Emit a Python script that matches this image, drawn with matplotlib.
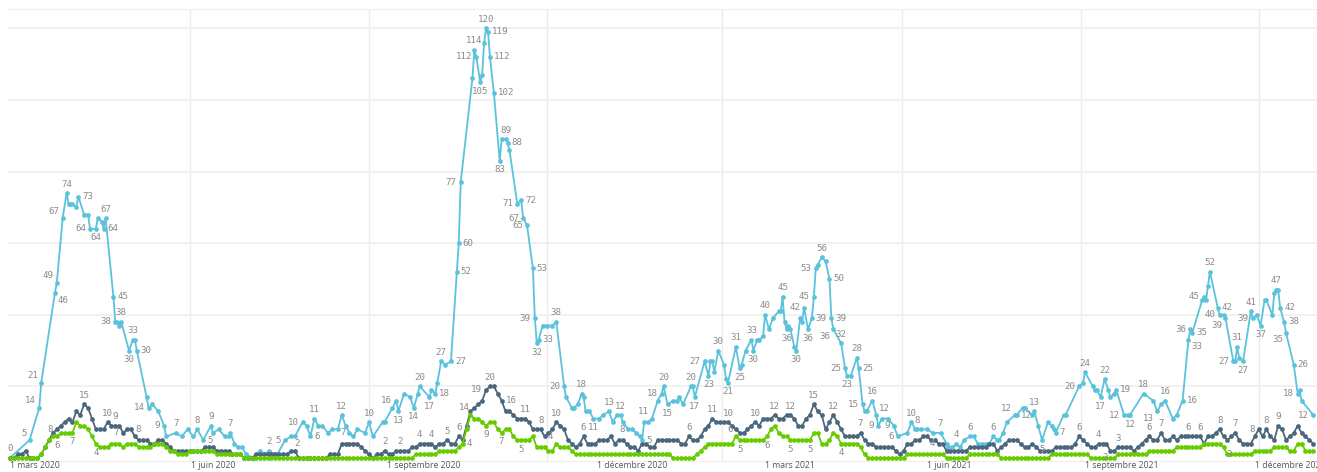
import pandas as pd
import matplotlib
matplotlib.use("Agg")
import matplotlib.pyplot as plt
import matplotlib.transforms as mtransforms

# day 0 = 1 mars 2020
start = pd.Timestamp("2020-03-01")

# light blue series: (day, value)
blue_pts = [
    (0, 0), (10, 5), (15, 14), (16, 21), (23, 46), (24, 49), (27, 67), (29, 74), (30, 71), (31, 71),
    (32, 71), (34, 70), (35, 73), (38, 68), (40, 68), (41, 64), (44, 64), (45, 67), (47, 66), (48, 64),
    (49, 67), (53, 45), (54, 38), (55, 38), (56, 37), (57, 38), (61, 30), (63, 33), (64, 33), (65, 30),
    (70, 17), (71, 14), (73, 15), (76, 13), (79, 9), (80, 6), (85, 7), (88, 6), (91, 8), (94, 6),
    (96, 8), (99, 5), (103, 9), (104, 7), (107, 8), (110, 6), (112, 6), (113, 7), (115, 4), (117, 3),
    (119, 3), (121, 1), (125, 0), (128, 2), (130, 1), (133, 2), (135, 1), (137, 1), (141, 5), (144, 6),
    (146, 6), (150, 10), (152, 9), (154, 6), (156, 11), (158, 9), (160, 9), (163, 7), (165, 8), (168, 8),
    (170, 12), (172, 9), (174, 7), (176, 6), (178, 8), (182, 7), (184, 10), (186, 6), (191, 10), (192, 10),
    (196, 14), (198, 16), (199, 13), (202, 18), (205, 17), (207, 14), (209, 18), (210, 20), (215, 17), (216, 19),
    (218, 18), (219, 21), (221, 27), (223, 26), (226, 27), (229, 52), (230, 60), (231, 77), (237, 106), (238, 114),
    (239, 112), (241, 105), (242, 107), (243, 116), (244, 120), (245, 119), (246, 112), (248, 102), (251, 83), (252, 89),
    (254, 89), (255, 88), (256, 86), (260, 71), (262, 72), (263, 67), (265, 65), (268, 53), (269, 39), (270, 32),
    (271, 33), (273, 37), (275, 37), (278, 37), (280, 38), (284, 20), (285, 17), (288, 14), (289, 14), (291, 15),
    (293, 18), (294, 17), (295, 13), (297, 13), (299, 11), (302, 11), (304, 12), (307, 13), (309, 10), (311, 12),
    (313, 12), (314, 10), (317, 8), (319, 8), (321, 7), (323, 6), (324, 5), (325, 10), (327, 10), (329, 11),
    (332, 16), (334, 18), (335, 20), (337, 15), (340, 16), (342, 16), (343, 17), (345, 15), (349, 20), (350, 20),
    (351, 17), (356, 27), (358, 23), (359, 27), (360, 27), (361, 24), (363, 30), (366, 26), (367, 22), (368, 21),
    (372, 31), (374, 25), (375, 26), (377, 30), (380, 33), (381, 30), (383, 33), (384, 33), (386, 34), (387, 40),
    (389, 36), (391, 39), (394, 41), (395, 41), (396, 45), (397, 38), (398, 36), (399, 37), (400, 36), (402, 31),
    (403, 30), (405, 39), (406, 38), (407, 42), (409, 36), (411, 39), (412, 45), (413, 53), (414, 54), (416, 56),
    (418, 55), (420, 50), (421, 39), (422, 36), (426, 32), (428, 25), (429, 23), (431, 23), (434, 28), (435, 25),
    (437, 15), (438, 13), (439, 13), (442, 16), (444, 12), (445, 9), (447, 11), (450, 11), (453, 9), (455, 6),
    (460, 7), (462, 10), (464, 8), (465, 8), (467, 8), (470, 8), (473, 7), (477, 7), (480, 4), (481, 3),
    (483, 3), (485, 4), (487, 3), (489, 5), (492, 6), (494, 6), (496, 4), (498, 4), (500, 4), (502, 4),
    (504, 6), (506, 5), (507, 5), (509, 7), (511, 10), (515, 12), (516, 12), (519, 14), (520, 14), (524, 12),
    (525, 13), (527, 9), (529, 5), (532, 10), (534, 9), (535, 8), (536, 7), (540, 12), (541, 12), (548, 20),
    (550, 21), (551, 24), (555, 20), (556, 19), (557, 19), (559, 17), (561, 22), (563, 19), (564, 17), (566, 18),
    (567, 19), (571, 12), (573, 12), (574, 12), (581, 18), (586, 16), (588, 13), (590, 15), (592, 16), (596, 11),
    (598, 12), (601, 16), (604, 33), (605, 36), (606, 35), (611, 44), (612, 45), (613, 44), (614, 48), (615, 52),
    (619, 42), (620, 40), (622, 40), (623, 39), (627, 27), (628, 27), (629, 31), (630, 28), (632, 27), (636, 41),
    (637, 39), (639, 40), (641, 37), (643, 44), (644, 44), (647, 40), (648, 46), (649, 47), (650, 47), (651, 42),
    (653, 38), (654, 35), (658, 26), (660, 18), (661, 19), (662, 16), (668, 12),
]

# dark and green series: one value every 2 days from day 0
dark_vals = [
    0, 0, 1, 1, 2, 0, 0, 0, 1, 3, 5, 7, 8, 9, 10, 11, 10, 13, 12, 15,
    14, 11, 8, 8, 8, 10, 9, 9, 9, 7, 8, 8, 6, 5, 5, 5, 4, 4, 5, 5,
    4, 3, 2, 2, 2, 2, 2, 2, 2, 2, 3, 3, 3, 2, 2, 2, 2, 1, 1, 1,
    0, 0, 0, 1, 1, 1, 1, 1, 1, 1, 1, 1, 2, 2, 0, 0, 0, 0, 0, 0,
    0, 0, 1, 1, 1, 4, 4, 4, 4, 4, 3, 2, 1, 0, 1, 1, 2, 1, 1, 2,
    2, 2, 2, 3, 3, 4, 4, 4, 4, 3, 4, 4, 5, 4, 4, 6, 5, 9, 13, 14,
    15, 16, 19, 20, 20, 18, 16, 13, 13, 12, 11, 11, 11, 10, 8, 8, 8, 6, 7, 8,
    10, 9, 8, 5, 4, 3, 4, 6, 4, 4, 4, 5, 5, 5, 6, 4, 5, 5, 4, 3,
    3, 2, 4, 4, 3, 3, 5, 5, 5, 5, 5, 5, 4, 4, 6, 5, 5, 6, 8, 9,
    11, 10, 10, 10, 10, 9, 8, 7, 7, 8, 9, 10, 9, 11, 11, 11, 12, 11, 11, 12,
    12, 11, 9, 9, 11, 12, 15, 13, 12, 8, 10, 12, 10, 8, 6, 6, 6, 6, 7, 5,
    4, 4, 3, 3, 3, 3, 3, 2, 1, 2, 4, 4, 5, 5, 6, 6, 5, 5, 4, 4,
    2, 2, 2, 2, 2, 2, 3, 3, 3, 3, 3, 4, 4, 2, 3, 4, 5, 5, 5, 4,
    3, 3, 4, 3, 2, 2, 2, 2, 3, 3, 3, 3, 3, 4, 6, 5, 4, 3, 3, 4,
    4, 4, 2, 2, 3, 3, 3, 3, 2, 3, 4, 5, 6, 5, 5, 7, 5, 5, 6, 5,
    6, 6, 6, 6, 6, 6, 4, 6, 6, 7, 8, 6, 5, 6, 7, 5, 4, 4, 4, 6,
    8, 6, 8, 6, 5, 9, 8, 5, 6, 7, 9, 7, 6, 5, 4,
]

green_vals = [
    0, 0, 0, 0, 0, 0, 0, 0, 1, 3, 5, 6, 6, 7, 7, 7, 7, 10, 9, 9,
    8, 6, 4, 3, 3, 3, 4, 4, 4, 3, 4, 4, 4, 3, 3, 3, 3, 4, 4, 4,
    3, 2, 2, 1, 1, 1, 2, 2, 2, 2, 2, 2, 2, 1, 1, 1, 1, 1, 1, 1,
    0, 0, 0, 0, 0, 0, 0, 0, 0, 0, 0, 0, 0, 0, 0, 0, 0, 0, 0, 0,
    0, 0, 0, 0, 0, 0, 0, 0, 0, 0, 0, 0, 0, 0, 0, 0, 0, 0, 0, 0,
    0, 0, 0, 0, 1, 1, 1, 1, 1, 1, 2, 2, 2, 2, 2, 3, 4, 8, 12, 11,
    11, 10, 9, 10, 10, 8, 7, 8, 8, 6, 5, 5, 5, 5, 6, 3, 3, 3, 2, 2,
    4, 3, 3, 3, 2, 1, 1, 1, 1, 1, 1, 1, 1, 1, 1, 1, 1, 1, 1, 1,
    1, 1, 1, 1, 1, 1, 1, 1, 1, 1, 0, 0, 0, 0, 0, 0, 1, 2, 3, 4,
    4, 4, 4, 4, 4, 4, 6, 5, 5, 5, 5, 5, 5, 5, 6, 8, 9, 7, 6, 6,
    5, 5, 5, 5, 5, 5, 7, 7, 4, 4, 5, 7, 6, 4, 4, 4, 4, 4, 3, 1,
    0, 0, 0, 0, 0, 0, 0, 0, 0, 0, 1, 1, 1, 1, 1, 1, 1, 1, 1, 1,
    0, 0, 0, 0, 0, 0, 1, 1, 1, 1, 1, 1, 1, 1, 0, 0, 0, 0, 0, 0,
    0, 0, 0, 0, 0, 0, 0, 1, 1, 1, 1, 1, 1, 1, 1, 1, 1, 0, 0, 0,
    0, 0, 0, 0, 1, 1, 1, 1, 1, 1, 1, 1, 2, 2, 2, 2, 2, 2, 2, 3,
    3, 3, 3, 3, 3, 3, 4, 4, 4, 4, 4, 3, 1, 1, 1, 1, 1, 1, 1, 2,
    2, 2, 2, 2, 3, 3, 3, 3, 2, 2, 4, 4, 2, 2, 2,
]

# data labels: point -> where the text sits (a above, b below, l left, r right)
blue_labels = {
    0: "a", 10: "la", 15: "la", 16: "la", 23: "rb", 24: "la", 27: "la", 29: "a", 35: "r", 41: "l",
    44: "b", 48: "r", 49: "a", 53: "r", 54: "l", 57: "a", 61: "b", 63: "a", 65: "r", 71: "l",
    79: "l", 85: "a", 96: "a", 99: "r", 103: "a", 113: "a", 133: "a", 141: "l", 150: "l", 154: "r",
    156: "a", 170: "a", 174: "l", 184: "a", 198: "l", 199: "b", 207: "b", 210: "a", 215: "b", 218: "r",
    221: "a", 226: "r", 229: "r", 230: "r", 231: "l", 238: "a", 239: "l", 241: "b", 244: "a", 245: "r",
    246: "r", 248: "r", 251: "b", 254: "a", 255: "r", 260: "l", 262: "r", 263: "l", 265: "l", 268: "r",
    269: "l", 270: "b", 271: "r", 280: "a", 284: "l", 293: "a", 299: "b", 307: "a", 313: "a", 317: "l",
    324: "r", 329: "la", 334: "l", 335: "a", 337: "b", 349: "a", 351: "b", 356: "l", 358: "b", 363: "a",
    368: "b", 372: "a", 374: "b", 380: "a", 381: "b", 387: "a", 396: "a", 398: "b", 403: "b", 407: "l",
    409: "b", 411: "r", 412: "l", 413: "l", 416: "a", 420: "r", 421: "r", 422: "lb", 426: "a", 428: "l",
    429: "b", 434: "a", 435: "r", 437: "l", 442: "a", 444: "ra", 445: "l", 453: "l", 455: "l", 462: "a",
    465: "a", 477: "a", 485: "a", 492: "a", 504: "a", 515: "la", 516: "r", 525: "a", 529: "b", 536: "r",
    548: "l", 551: "a", 559: "b", 561: "a", 567: "r", 571: "l", 574: "b", 581: "a", 588: "lb", 592: "a",
    601: "r", 604: "rb", 605: "l", 606: "r", 612: "l", 615: "a", 619: "r", 620: "l", 623: "lb", 627: "l",
    629: "a", 632: "b", 636: "a", 637: "l", 641: "b", 649: "a", 651: "r", 653: "r", 654: "lb", 658: "r",
    660: "l", 668: "l",
}
dark_labels = {
    12: "l", 19: "a", 25: "a", 27: "a", 29: "l", 31: "r", 72: "ra", 96: "a", 100: "a", 105: "a",
    108: "a", 112: "a", 115: "a", 119: "l", 122: "l", 123: "a", 126: "r", 132: "a", 136: "a", 140: "a",
    147: "a", 174: "a", 180: "a", 184: "a", 191: "a", 196: "a", 200: "a", 206: "a", 211: "a", 218: "a",
    238: "l", 274: "a", 279: "a", 282: "lb", 284: "a", 292: "a", 295: "a", 302: "a", 305: "a", 310: "a",
    314: "a", 320: "l", 322: "a", 325: "a",
}
green_labels = {
    12: "b", 16: "b", 22: "b", 116: "r", 122: "b", 126: "b", 131: "b", 140: "la", 186: "la", 187: "b",
    194: "b", 200: "b", 205: "b", 213: "b", 311: "rb",
}

tick_text = ["1 mars 2020", "1 juin 2020", "1 septembre 2020", "1 décembre 2020",
             "1 mars 2021", "1 juin 2021", "1 septembre 2021", "1 décembre 2021"]
tick_dates = ["2020-03-01", "2020-06-01", "2020-09-01", "2020-12-01",
              "2021-03-01", "2021-06-01", "2021-09-01", "2021-12-01"]
# where each label starts, in days (the labels do not sit on the grid lines)
tick_text_day = [0, 93, 193, 301, 387, 470, 551, 638]

BLUE = "#5bc2dc"
DARK = "#4b677e"
GREEN = "#66cc00"
LABEL = "#8a8a8a"

blue_day = [d for d, v in blue_pts]
blue_val = [v for d, v in blue_pts]
blue_by_day = dict(blue_pts)
grid_day = [2 * i for i in range(len(dark_vals))]

fig = plt.figure(figsize=(13.17, 4.72), dpi=100)
ax = fig.add_axes([8 / 1317, 10.8 / 472, 1309 / 1317, 452.2 / 472])
ax.set_xlim(-1.03, 669.9)
ax.set_ylim(-0.9, 125.4)

# grid
grid_x = [(pd.Timestamp(d) - start).days for d in tick_dates]
for gx in grid_x[1:]:
    ax.axvline(gx, color="#ececec", lw=1, zorder=0)
for gy in [20, 40, 60, 80, 100, 120]:
    ax.axhline(gy, color="#efefef", lw=1.2, zorder=0)
for s in ["left", "right"]:
    ax.spines[s].set_visible(False)
ax.spines["top"].set_color("#eeeeee")
ax.spines["bottom"].set_color("#eeeeee")
ax.set_xticks([])
ax.set_yticks([])

style = dict(marker="o", ms=3.4, mew=0, lw=1.3, clip_on=False)
ax.plot(blue_day, blue_val, color=BLUE, zorder=3, **style)
ax.plot(grid_day, dark_vals, color=DARK, zorder=4, **style)
ax.plot(grid_day, green_vals, color=GREEN, zorder=5, **style)

offsets = {
    "a": (0, 9, "center"), "b": (0, -9, "center"),
    "l": (-4, 0, "right"), "r": (4, 0, "left"),
    "la": (-3, 7, "right"), "lb": (-3, -7, "right"),
    "ra": (3, 7, "left"), "rb": (3, -7, "left"),
}


def put_labels(xs, ys, labels):
    for key, pos in labels.items():
        dx, dy, ha = offsets[pos]
        ax.annotate(str(ys[key]), (xs[key], ys[key]), xytext=(dx * 0.72, dy * 0.72),
                    textcoords="offset points", ha=ha, va="center",
                    fontsize=6.6, color=LABEL, family="DejaVu Sans Mono", zorder=6)


put_labels({d: d for d in blue_day}, blue_by_day, blue_labels)
put_labels(grid_day, dark_vals, dark_labels)
put_labels(grid_day, green_vals, green_labels)

trans = mtransforms.blended_transform_factory(ax.transData, ax.transAxes)
for txt, d in zip(tick_text, tick_text_day):
    ax.text(d, -0.0106, txt, transform=trans, ha="left", va="center",
            fontsize=6.2, color="#555555", family="Open Sans")

fig.savefig("out.png", dpi=100)
